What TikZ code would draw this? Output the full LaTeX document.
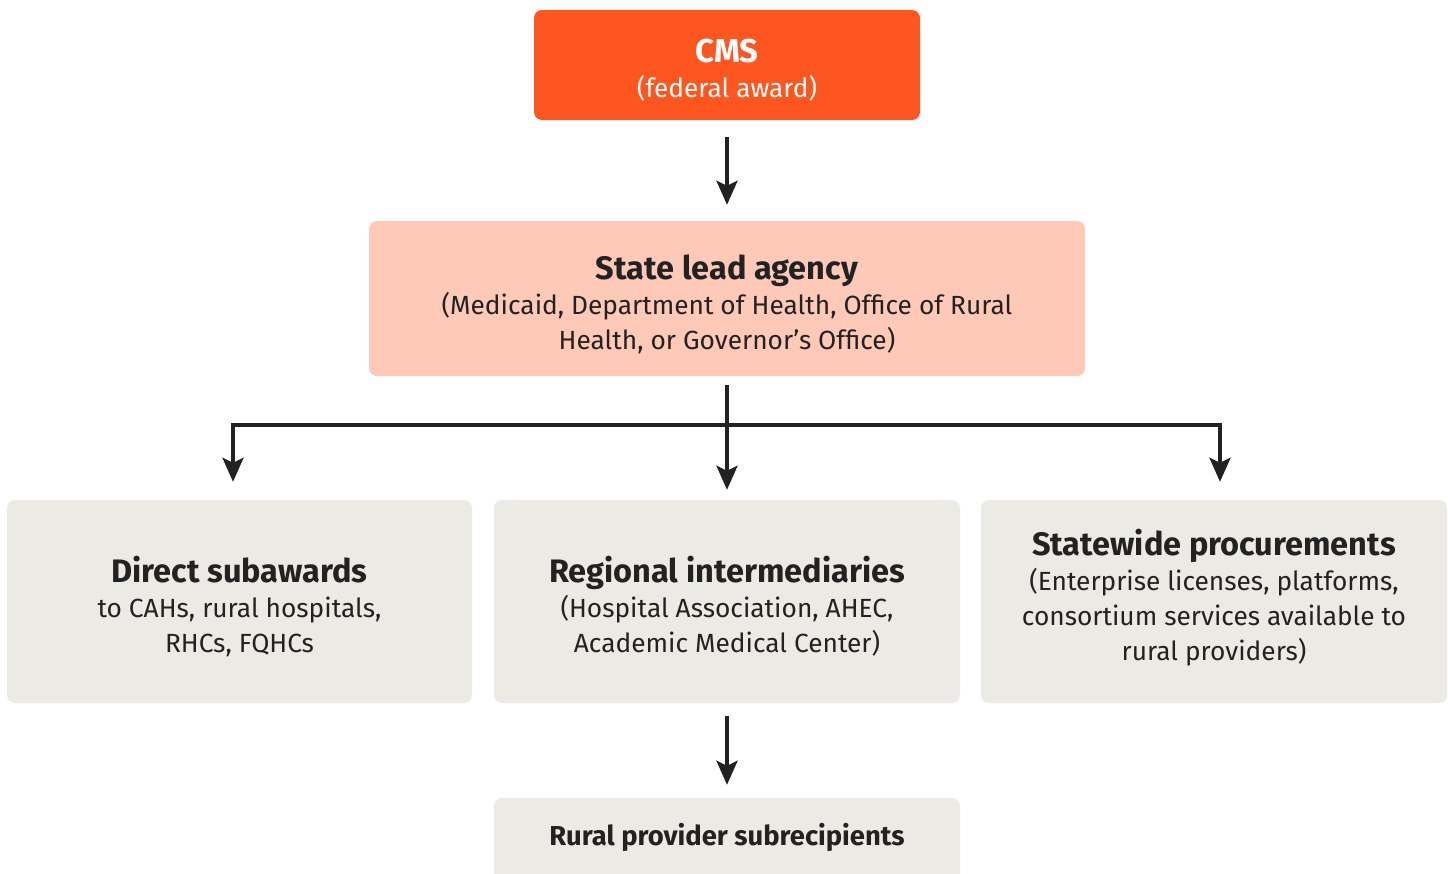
\documentclass[tikz,border=0pt]{standalone}
\usepackage{fontspec}
\setmainfont{Fira Sans}
\usetikzlibrary{arrows.meta}
\definecolor{cmsorange}{HTML}{FF5620}
\definecolor{statepeach}{HTML}{FFC9B7}
\definecolor{tierbg}{HTML}{ECEAE5}
\definecolor{ink}{HTML}{222222}
\newcommand{\bodysize}{\fontsize{26.3}{35}\selectfont}
\newcommand{\headsize}{\fontsize{32.5}{36}\selectfont\bfseries}
\tikzset{
  x=1pt, y=-1pt,
  panel/.style={rectangle, rounded corners=8pt, draw=none, inner sep=0pt},
  caption/.style={inner sep=0pt, align=center, text=ink, font=\bodysize},
  flow/.style={draw=ink, line width=4pt, line join=miter,
               -{Stealth[length=24pt, width=21pt, inset=5pt]}},
}
\begin{document}
\begin{tikzpicture}
\useasboundingbox (0,0) rectangle (1448,873);
\clip (0,0) rectangle (1448,873);

% funding source
\node[panel, fill=cmsorange, minimum width=386pt, minimum height=110pt]
  (cms) at (727,65) {};
\node[caption, text=white] (cmstext) at (727,70.5)
  {{\fontsize{33}{36}\selectfont\bfseries CMS}\\(federal award)};

% state agency
\node[panel, fill=statepeach, minimum width=716pt, minimum height=155pt]
  (state) at (727,298.5) {};
\node[caption] (statetext) at (727,304.5) {{\headsize State lead agency}\\
  (Medicaid, Department of Health, Office of Rural\\
  Health, or Governor’s Office)};

% three distribution channels
\node[panel, fill=tierbg, minimum width=465pt, minimum height=203pt]
  (direct) at (239.5,601.5) {};
\node[caption] (directtext) at (239.5,606.5) {{\headsize Direct subawards}\\
  to CAHs, rural hospitals,\\ RHCs, FQHCs};

\node[panel, fill=tierbg, minimum width=466pt, minimum height=203pt]
  (regional) at (727,601.5) {};
\node[caption] (regionaltext) at (727,606.5) {{\headsize Regional intermediaries}\\
  (Hospital Association, AHEC,\\ Academic Medical Center)};

\node[panel, fill=tierbg, minimum width=466pt, minimum height=203pt]
  (statewide) at (1214,601.5) {};
\node[caption] (statewidetext) at (1214,598) {{\headsize Statewide procurements}\\
  (Enterprise licenses, platforms,\\ consortium services available to\\ rural providers)};

% final recipients (runs off the bottom edge)
\node[panel, fill=tierbg, minimum width=466pt, minimum height=110pt]
  (rural) at (727,853) {};
\node[caption, font=\fontsize{27.4}{30}\selectfont\bfseries]
  (ruraltext) at (727,837) {Rural provider subrecipients};

% connectors
\coordinate (busmid) at (727,425);
\coordinate (busleft) at (233,425);
\coordinate (busright) at (1220,425);

\draw[flow, shorten <=17pt, shorten >=16pt] (cms) -- (state);
\draw[flow, shorten <=9pt, shorten >=10pt] (state) -- (regional);
\draw[flow, shorten >=18pt] (busmid) -| (direct.north -| busleft);
\draw[flow, shorten >=18pt] (busmid) -| (statewide.north -| busright);
\draw[flow, shorten <=13pt, shorten >=13pt] (regional) -- (rural.north);
\end{tikzpicture}
\end{document}
